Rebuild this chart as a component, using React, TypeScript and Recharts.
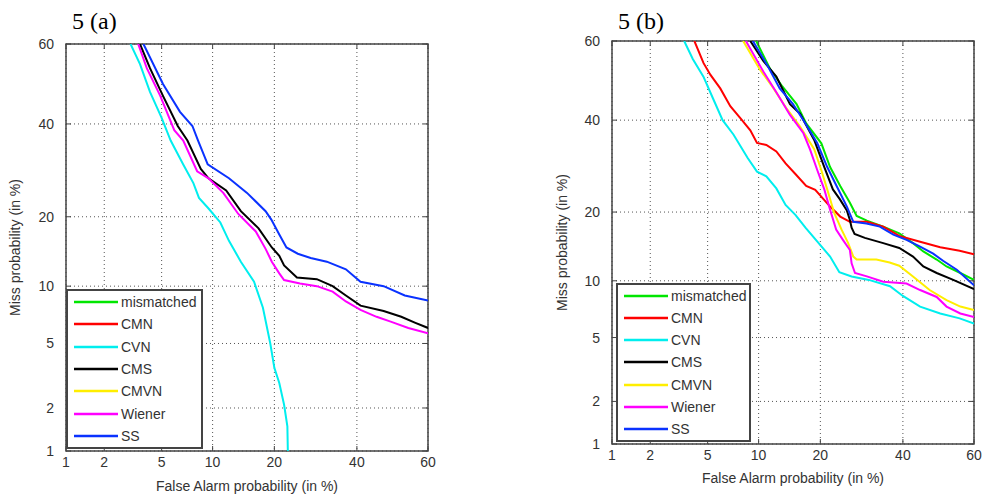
import { LineChart, Line, XAxis, YAxis, CartesianGrid, Legend, ReferenceArea } from 'recharts'

// DET axes: tick labels in %, drawn on a normal-deviate scale
const tickLabels = [1, 2, 5, 10, 20, 40, 60]
const seriesNames = ['mismatched', 'CMN', 'CVN', 'CMS', 'CMVN', 'Wiener', 'SS']
const seriesColors = ['#00e600', '#ff0000', '#00eeee', '#000000', '#ffee00', '#ff00ff', '#0a32ff']

// panel 5 (a): [false alarm %, miss %]
const mismatchedA: number[][] = []
const cmnA: number[][] = []
const cvnA = [[3.1, 60], [3.6, 55], [4.2, 48], [5, 41.5], [5.7, 36], [6.8, 30.5], [7.8, 26.5], [8.4, 23.5], [9.5, 21.5], [11, 19], [12.2, 16], [14, 13], [16.2, 10.5], [17.8, 7.8], [19.2, 5], [20, 3.6], [21, 2.9], [22, 2.1], [22.7, 1.5], [22.8, 1]]
const cmsA = [[3.6, 60], [4.2, 54], [5.1, 47], [6.3, 39.5], [7.2, 36], [8.6, 29.5], [9.5, 27.5], [11.8, 25], [14, 21], [17, 18], [19.5, 15], [21, 13.8], [22, 12.5], [24.8, 11], [29.5, 10.8], [33.5, 10], [37, 9], [41, 8], [47.5, 7.5], [52.5, 7], [56.5, 6.5], [60, 6.1]]
const cmvnA: number[][] = []
const wienerA = [[3.5, 60], [4, 54], [4.9, 47], [6, 38.5], [6.8, 36], [8.2, 29], [9.5, 27.5], [11.4, 24.5], [13.6, 20.5], [16.5, 17.5], [18.3, 14.8], [19.5, 13], [21, 11.5], [22, 10.7], [25.5, 10.3], [29.5, 10], [33.5, 9.4], [37, 8.4], [41, 7.6], [45.5, 7], [49.5, 6.6], [54.5, 6.1], [60, 5.7]]
const ssA = [[3.8, 60], [5.1, 50], [6.5, 43], [7.7, 39.5], [8.3, 36], [9.4, 30.5], [12.2, 27.5], [15, 24.5], [18.3, 21], [19.4, 19.5], [21, 17], [22.5, 15], [25, 14.1], [28, 13.5], [32, 13], [37, 12], [41, 10.5], [47.5, 10], [53.5, 9], [60, 8.5]]

// panel 5 (b)
const mismatchedB = [[9.7, 60], [11.5, 53], [13.3, 48.5], [15.6, 44], [17.3, 39.2], [20.2, 34.4], [22, 29], [24.2, 25], [26.4, 21.7], [28, 19.3], [30.5, 18.5], [34.7, 17.5], [39, 16.4], [42.8, 14.9], [45.7, 13.7], [49.5, 12.6], [52.3, 11.7], [56.2, 10.9], [60, 10.1]]
const cmnB = [[4.1, 60], [4.7, 54.5], [5.2, 51.5], [6, 48], [6.9, 43.5], [7.9, 40.5], [9, 37.5], [9.8, 34.5], [11, 34], [12.4, 32.5], [13.8, 29.8], [15.4, 27.5], [17.3, 25], [19, 24.2], [22, 21], [24.2, 19.2], [26.4, 18.3], [30.5, 18.3], [34.7, 17.5], [39, 16], [44.8, 15.1], [50.5, 14.3], [56, 13.8], [60, 13.3]]
const cvnB = [[3.5, 60], [4, 55.5], [4.7, 51], [5.4, 45.5], [6.2, 40], [7.2, 36.5], [8.7, 31], [9.8, 28], [11, 27], [12.4, 24.5], [13.8, 21.3], [15.4, 19.5], [17.2, 17.3], [20, 14.6], [22, 13], [24, 11], [26.8, 10.5], [31, 10.1], [36.5, 9.4], [40, 8.4], [44.8, 7.4], [50.5, 6.8], [56, 6.4], [60, 6]]
const cmsB = [[9, 60], [10.6, 55], [12.4, 51], [14.5, 44], [16.2, 41.6], [18.8, 35.2], [20.8, 29], [22.6, 24.3], [24.1, 22.4], [25.7, 20.3], [26.4, 18.6], [26.8, 17.3], [27.5, 16.3], [30, 15.7], [34.7, 14.9], [39, 14.2], [42.8, 13], [45.7, 11.7], [49.5, 10.9], [54.2, 10.1], [60, 9.1]]
const cmvnB = [[8.2, 60], [10.1, 53], [12, 48], [14, 42.8], [16.2, 38.4], [18.8, 33], [20.2, 28.3], [21.4, 24.3], [22.9, 19.8], [24.5, 17], [26, 14.9], [27.2, 13], [28, 12.6], [32.9, 12.6], [36.4, 12.2], [39, 11.8], [42.8, 10.5], [47.5, 9], [52.3, 8], [56.2, 7.4], [60, 7.1]]
const wienerB = [[8.5, 60], [10.6, 52.3], [12.4, 47], [14.5, 41.3], [16.8, 36.8], [18, 33], [19.4, 28.3], [20.8, 24.3], [22, 20.4], [23.3, 17], [24.8, 15.4], [26.4, 13.9], [26.8, 12.1], [27.6, 10.9], [30.5, 10.5], [34.7, 9.9], [41, 9.7], [44.8, 9], [49.5, 8.3], [52.3, 7.4], [56.2, 6.8], [60, 6.5]]
const ssB = [[9.3, 60], [11.1, 54], [12.9, 48], [15, 44], [16.8, 40], [19.4, 34.4], [21.4, 29], [23.4, 25], [25.7, 21], [27.2, 18.3], [30.4, 18], [33.8, 17.5], [37.4, 16.2], [41, 15.4], [44.8, 14.4], [48.5, 13.4], [51.4, 12.4], [55.2, 11.3], [60, 9.5]]

// inverse normal CDF (Acklam)
function probit(p: number) {
  const a = [-39.69683028665376, 220.9460984245205, -275.9285104469687, 138.357751867269, -30.66479806614716, 2.506628277459239]
  const b = [-54.47609879822406, 161.5858368580409, -155.6989798598866, 66.80131188771972, -13.28068155288572]
  const c = [-0.007784894002430293, -0.3223964580411365, -2.400758277161838, -2.549732539343734, 4.374664141464968, 2.938163982698783]
  const d = [0.007784695709041462, 0.3224671290700398, 2.445134137142996, 3.754408661907416]
  const pl = 0.02425
  if (p < pl) {
    const q = Math.sqrt(-2 * Math.log(p))
    return (((((c[0] * q + c[1]) * q + c[2]) * q + c[3]) * q + c[4]) * q + c[5]) / ((((d[0] * q + d[1]) * q + d[2]) * q + d[3]) * q + 1)
  }
  if (p <= 1 - pl) {
    const q = p - 0.5
    const r = q * q
    return ((((((a[0] * r + a[1]) * r + a[2]) * r + a[3]) * r + a[4]) * r + a[5]) * q) / (((((b[0] * r + b[1]) * r + b[2]) * r + b[3]) * r + b[4]) * r + 1)
  }
  const q = Math.sqrt(-2 * Math.log(1 - p))
  return -(((((c[0] * q + c[1]) * q + c[2]) * q + c[3]) * q + c[4]) * q + c[5]) / ((((d[0] * q + d[1]) * q + d[2]) * q + d[3]) * q + 1)
}

const zTicks = tickLabels.map((v) => probit(v / 100))
const zDomain = [zTicks[0], zTicks[zTicks.length - 1]]
const toPoints = (pairs: number[][]) => pairs.map(([fa, miss]) => ({ x: probit(fa / 100), y: probit(miss / 100) }))
const labelFor = (z: number) => {
  let best = 0
  zTicks.forEach((t, i) => {
    if (Math.abs(t - z) < Math.abs(zTicks[best] - z)) best = i
  })
  return String(tickLabels[best])
}

const FONT = '"Liberation Sans", Arial, sans-serif'
const TEXT = '#333'
const CHART_H = 496

interface PanelProps {
  title: string
  left: number
  width: number
  top: number
  right: number
  yAxisWidth: number
  xAxisHeight: number
  xLabelOffset: number
  yLabelOffset: number
  curves: number[][][]
  legend: { left: number; top: number; width: number; height: number }
}

function DetPanel({ title, left, width, top, right, yAxisWidth, xAxisHeight, xLabelOffset, yLabelOffset, curves, legend }: PanelProps) {
  const plotLeft = yAxisWidth
  const plotRight = width - right
  const plotTop = top
  const plotBottom = CHART_H - xAxisHeight
  const rowH = (legend.height - 4) / seriesNames.length

  // matlab style: inward ticks on all four sides
  const XTick = (p: any) => (
    <g>
      <line x1={p.payload.coordinate} x2={p.payload.coordinate} y1={plotBottom} y2={plotBottom - 5} stroke="#444" />
      <line x1={p.payload.coordinate} x2={p.payload.coordinate} y1={plotTop} y2={plotTop + 5} stroke="#444" />
      <text x={p.x} y={p.y} dy="0.71em" textAnchor="middle" fontSize={14} fontFamily={FONT} fill={TEXT}>
        {labelFor(p.payload.value)}
      </text>
    </g>
  )
  const YTick = (p: any) => (
    <g>
      <line x1={plotLeft} x2={plotLeft + 5} y1={p.payload.coordinate} y2={p.payload.coordinate} stroke="#444" />
      <line x1={plotRight} x2={plotRight - 5} y1={p.payload.coordinate} y2={p.payload.coordinate} stroke="#444" />
      <text x={p.x} y={p.y} dy="0.355em" textAnchor="end" fontSize={14} fontFamily={FONT} fill={TEXT}>
        {labelFor(p.payload.value)}
      </text>
    </g>
  )

  const legendContent = (props: any) => {
    const items = [...(props.payload ?? [])].sort((a: any, b: any) => seriesNames.indexOf(a.value) - seriesNames.indexOf(b.value))
    return (
      <div style={{ width: legend.width, height: legend.height, boxSizing: 'border-box', border: '2px solid #444', background: '#fff' }}>
        {items.map((it: any) => (
          <div key={it.value} style={{ height: rowH, display: 'flex', alignItems: 'center' }}>
            <svg width={47} height={4} style={{ marginLeft: 6, flex: 'none' }}>
              <line x1={0} x2={44} y1={2} y2={2} stroke={it.color} strokeWidth={2.5} />
            </svg>
            <span style={{ fontFamily: FONT, fontSize: 14, color: TEXT, lineHeight: 1 }}>{it.value}</span>
          </div>
        ))}
      </div>
    )
  }

  return (
    <div style={{ position: 'absolute', left, top: 0, width, height: CHART_H }}>
      <LineChart width={width} height={CHART_H} margin={{ top, right, bottom: 0, left: 0 }}>
        <CartesianGrid stroke="#555" strokeDasharray="1 3" />
        <XAxis
          type="number"
          dataKey="x"
          domain={zDomain}
          ticks={zTicks}
          allowDataOverflow
          interval={0}
          height={xAxisHeight}
          tickSize={0}
          tickMargin={6}
          axisLine={false}
          tickLine={false}
          tick={XTick}
          label={{ value: 'False Alarm probability (in %)', position: 'insideBottom', offset: xLabelOffset, style: { fontFamily: FONT, fontSize: 14, fill: TEXT } }}
        />
        <YAxis
          type="number"
          domain={zDomain}
          ticks={zTicks}
          allowDataOverflow
          interval={0}
          width={yAxisWidth}
          tickSize={0}
          tickMargin={12}
          axisLine={false}
          tickLine={false}
          tick={YTick}
          label={{ value: 'Miss probability (in %)', angle: -90, position: 'insideLeft', offset: yLabelOffset, style: { fontFamily: FONT, fontSize: 14, fill: TEXT, textAnchor: 'middle' } }}
        />
        {curves.map((c, i) => (
          <Line
            key={seriesNames[i]}
            data={toPoints(c)}
            dataKey="y"
            name={seriesNames[i]}
            stroke={seriesColors[i]}
            strokeWidth={2}
            type="linear"
            dot={false}
            activeDot={false}
            isAnimationActive={false}
          />
        ))}
        <ReferenceArea x1={zDomain[0]} x2={zDomain[1]} y1={zDomain[0]} y2={zDomain[1]} fill="none" stroke="#444" strokeWidth={1.5} />
        <Legend
          layout="vertical"
          verticalAlign="middle"
          align="center"
          content={legendContent}
          wrapperStyle={{ left: legend.left, top: legend.top, width: legend.width, height: legend.height }}
        />
      </LineChart>
      <div style={{ position: 'absolute', left: plotLeft + 6, top: 9, fontFamily: '"Liberation Serif", "Times New Roman", serif', fontSize: 24, lineHeight: 1, color: '#000' }}>
        {title}
      </div>
    </div>
  )
}

export default function App() {
  return (
    <div style={{ position: 'absolute', left: 0, top: 0, width: 985, height: 496, background: '#fff', overflow: 'hidden' }}>
      <DetPanel
        title="5 (a)"
        left={0}
        width={440}
        top={44}
        right={12}
        yAxisWidth={66}
        xAxisHeight={45}
        xLabelOffset={5}
        yLabelOffset={15}
        curves={[mismatchedA, cmnA, cvnA, cmsA, cmvnA, wienerA, ssA]}
        legend={{ left: 66, top: 289, width: 137, height: 160 }}
      />
      <DetPanel
        title="5 (b)"
        left={530}
        width={455}
        top={41}
        right={11}
        yAxisWidth={82}
        xAxisHeight={52}
        xLabelOffset={13}
        yLabelOffset={32}
        curves={[mismatchedB, cmnB, cvnB, cmsB, cmvnB, wienerB, ssB]}
        legend={{ left: 86, top: 283, width: 135, height: 159 }}
      />
    </div>
  )
}
